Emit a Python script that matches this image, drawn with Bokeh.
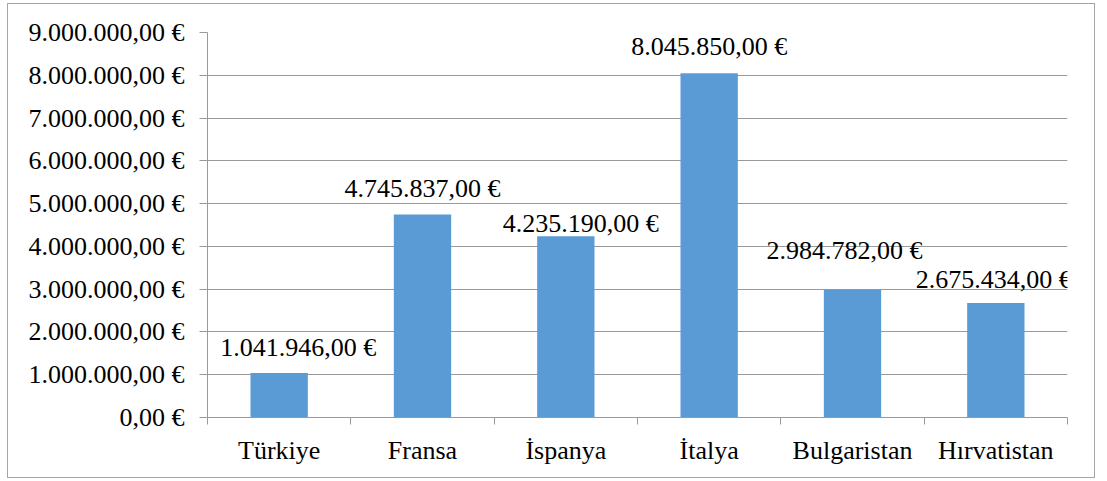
from bokeh.plotting import figure
from bokeh.models import Range1d, FixedTicker, ColumnDataSource, LabelSet
from bokeh.embed import file_html
from bokeh.resources import INLINE

categories = ["Türkiye", "Fransa", "İspanya", "İtalya", "Bulgaristan", "Hırvatistan"]
amounts = [1041946.00, 4745837.00, 4235190.00, 8045850.00, 2984782.00, 2675434.00]
y_ticks = [0, 1000000, 2000000, 3000000, 4000000, 5000000, 6000000, 7000000, 8000000, 9000000]

# label placement (pixels, hand-placed in the reference)
label_dx = [19, 0, 15, 0, -8, -2]
label_dy = [25, 26, 13, 27, 39, 24]


def eur(v):
    s = f"{v:,.2f}".replace(",", "X").replace(".", ",").replace("X", ".")
    return s + " €"


FONT = "Liberation Serif"
FS = "26px"
GRID = "#9a9a9a"

xs = [i + 0.5 for i in range(len(categories))]
src = ColumnDataSource(dict(
    x=xs, top=amounts, label=[eur(v) for v in amounts],
    dx=label_dx, dy=label_dy,
))

p = figure(
    width=1088, height=475,
    x_range=Range1d(0, len(categories)), y_range=Range1d(0, y_ticks[-1]),
    output_backend="svg", toolbar_location=None,
    min_border_left=199, min_border_right=29, min_border_top=28, min_border_bottom=62,
    background_fill_color="white", border_fill_color="white",
    outline_line_color=None,
    styles={"border": "1px solid #a6a6a6", "margin-left": "7px", "margin-top": "3px"},
)

p.vbar(x="x", top="top", width=0.4, bottom=0, source=src,
       fill_color="#5B9BD5", line_color=None)

labels = LabelSet(x="x", y="top", text="label", x_offset="dx", y_offset="dy", source=src,
                  text_font=FONT, text_font_size=FS, text_color="black",
                  text_align="center", text_baseline="middle")
p.add_layout(labels)

# y axis
p.yaxis.ticker = FixedTicker(ticks=y_ticks)
p.yaxis.major_label_overrides = {t: eur(t) for t in y_ticks}
p.yaxis.major_label_text_font = FONT
p.yaxis.major_label_text_font_size = FS
p.yaxis.major_label_text_color = "black"
p.yaxis.major_label_standoff = 15
p.yaxis.major_tick_out = 8
p.yaxis.major_tick_in = 0
p.yaxis.minor_tick_line_color = None
p.yaxis.axis_line_color = GRID
p.yaxis.major_tick_line_color = GRID

# x axis
p.xaxis.ticker = FixedTicker(ticks=xs, minor_ticks=list(range(len(categories) + 1)))
p.xaxis.major_label_overrides = {x: c for x, c in zip(xs, categories)}
p.xaxis.major_label_text_font = FONT
p.xaxis.major_label_text_font_size = FS
p.xaxis.major_label_text_color = "black"
p.xaxis.major_label_standoff = 11
p.xaxis.major_tick_line_color = None
p.xaxis.major_tick_out = 0
p.xaxis.major_tick_in = 0
p.xaxis.minor_tick_out = 7
p.xaxis.minor_tick_in = 0
p.xaxis.minor_tick_line_color = GRID
p.xaxis.axis_line_color = GRID

p.xgrid.grid_line_color = None
p.ygrid.ticker = FixedTicker(ticks=y_ticks)
p.ygrid.grid_line_color = GRID

open("out.html", "w").write(file_html(p, INLINE))
